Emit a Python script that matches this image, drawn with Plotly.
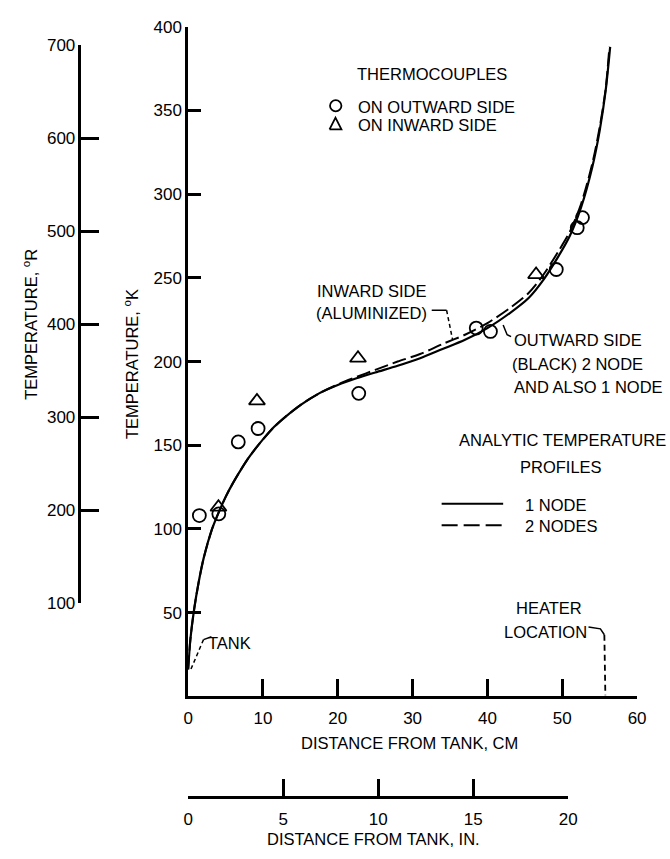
import plotly.graph_objects as go

# ---------------- data ----------------
cm_ticks = [0, 10, 20, 30, 40, 50, 60]
k_ticks = [50, 100, 150, 200, 250, 300, 350, 400]
r_ticks = [100, 200, 300, 400, 500, 600, 700]
in_ticks = [0, 5, 10, 15, 20]

# analytic profile, 1 node (solid)
node1_x = [0, 0.3, 0.8, 1.4, 2.1, 3.2, 4.0, 5.0, 6.0, 7.0, 8.0, 9.0, 10.0, 11.5,
           13, 15, 17.5, 20, 22.5, 25, 28, 31, 34, 37, 40, 43, 45.5, 47.5,
           49.5, 51, 52.5, 54, 55, 55.8, 56.4]
node1_y = [16, 34, 52, 68, 83, 100, 109, 119, 127.5, 135, 142, 148, 153.5, 161,
           167, 174, 181, 186, 190, 193.5, 197.5, 202, 207.5, 213, 220, 229, 238, 249,
           263, 275, 292, 316, 338, 362, 388]
# analytic profile, 2 nodes (dashed)
node2_x = [0, 0.3, 0.8, 1.4, 2.1, 3.2, 4.0, 5.0, 6.0, 7.0, 8.0, 9.0, 10.0, 11.5,
           13, 15, 17.5, 20, 22.5, 25, 28, 31, 34, 37, 40, 43, 45.5, 47.5,
           49.5, 51, 52.5, 54, 55, 55.8, 56.3]
node2_y = [16, 34, 52, 68, 83, 100, 109, 119, 127.5, 135, 142, 148, 153.5, 161,
           167, 174, 181, 186.3, 190.8, 195, 200, 204.5, 210.5, 216, 223, 232, 241, 252,
           266, 277.5, 294, 318, 340, 363, 388]

# thermocouples
outward_x = [1.5, 4.1, 6.7, 9.35, 22.8, 38.5, 40.4, 49.2, 52.0, 52.7]
outward_y = [108, 109, 152, 160, 181, 220, 218, 255, 280, 286]
inward_x = [4.05, 9.2, 22.7, 46.5]
inward_y = [113, 176.5, 202, 252]

# ---------------- layout helpers ----------------
W, H = 670, 859
L, T, R, B = 10, 10, 20, 10
PW, PH = W - L - R, H - T - B


def fx(px):
    return (px - L) / PW


def fy(py):
    return (H - B - py) / PH


FONT = "Liberation Sans, Arial, sans-serif"
FS_TICK = 17
FS = 16.5

fig = go.Figure()

fig.add_trace(go.Scatter(x=node1_x, y=node1_y, mode="lines",
                         line=dict(color="black", width=2.2, shape="spline", smoothing=0.8),
                         showlegend=False, hoverinfo="skip"))
fig.add_trace(go.Scatter(x=node2_x, y=node2_y, mode="lines",
                         line=dict(color="black", width=2.0, shape="spline", smoothing=0.8,
                                   dash="14px,5px"),
                         showlegend=False, hoverinfo="skip"))
fig.add_trace(go.Scatter(x=outward_x, y=outward_y, mode="markers",
                         marker=dict(symbol="circle-open", size=13, color="black",
                                     line=dict(width=1.8, color="black")),
                         showlegend=False, cliponaxis=False))
fig.add_trace(go.Scatter(x=inward_x, y=inward_y, mode="markers",
                         marker=dict(symbol="triangle-up-open", size=14, color="black",
                                     line=dict(width=1.8, color="black")),
                         showlegend=False, cliponaxis=False))
# carriers for the extra scales
fig.add_trace(go.Scatter(x=[], y=[], xaxis="x2", yaxis="y2", showlegend=False))
fig.add_trace(go.Scatter(x=[], y=[], xaxis="x3", yaxis="y3", showlegend=False))

axis_common = dict(showgrid=False, zeroline=False, showline=True, linecolor="black",
                   linewidth=2.5, ticks="inside", tickwidth=2.5, tickcolor="black",
                   tickfont=dict(family=FONT, size=FS_TICK, color="black"), fixedrange=True)

fig.update_layout(
    width=W, height=H,
    margin=dict(l=L, r=R, t=T, b=B),
    paper_bgcolor="white", plot_bgcolor="white",
    font=dict(family=FONT, size=FS, color="black"),
    xaxis=dict(domain=[fx(184.5), fx(637)], range=[0, 60], tickvals=cm_ticks,
               ticklen=18, anchor="y", ticklabelstandoff=5, **axis_common),
    yaxis=dict(domain=[fy(703), fy(18)], range=[0, 400], tickvals=k_ticks,
               ticklen=13, anchor="x", **axis_common),
    xaxis2=dict(domain=[fx(77), fx(77) + 0.02], range=[0, 1], visible=False, anchor="y2"),
    yaxis2=dict(domain=[fy(608), fy(37)], range=[100, 700], tickvals=r_ticks,
                ticklen=18, anchor="x2", **axis_common),
    xaxis3=dict(domain=[fx(184.5), fx(567.5)], range=[0, 20], tickvals=in_ticks,
                ticklen=17, anchor="y3", ticklabelstandoff=6, **axis_common),
    yaxis3=dict(domain=[fy(805), fy(805) + 0.02], range=[0, 1], visible=False, anchor="x3"),
)


def ann(text, px, py, xanchor="center", angle=0, size=FS):
    fig.add_annotation(text=text, x=fx(px), y=fy(py), xref="paper", yref="paper",
                       xanchor=xanchor, yanchor="middle", showarrow=False,
                       textangle=angle, font=dict(family=FONT, size=size, color="black"))


def seg(pts, dash="solid", width=1.6):
    path = "M " + " L ".join(f"{fx(a)},{fy(b)}" for a, b in pts)
    fig.add_shape(type="path", path=path, xref="paper", yref="paper",
                  line=dict(color="black", width=width, dash=dash))


# axis titles
ann("TEMPERATURE, <sup>o</sup>K", 127, 363, angle=-90)
ann("TEMPERATURE, <sup>o</sup>R", 25, 322, angle=-90)
ann("DISTANCE FROM TANK, CM", 408, 751)
ann("DISTANCE FROM TANK, IN.", 371, 849)

# thermocouple key
ann("THERMOCOUPLES", 430, 66)
ann("ON OUTWARD SIDE", 354, 100, xanchor="left")
ann("ON INWARD SIDE", 354, 118, xanchor="left")
fig.add_shape(type="circle", xref="paper", yref="paper",
              x0=fx(327.5), x1=fx(339), y0=fy(104.5), y1=fy(93),
              line=dict(color="black", width=1.8))
seg([(327, 123), (339, 123), (333, 111), (327, 123)], width=1.8)

# curve labels
ann("INWARD SIDE", 369, 288)
ann("(ALUMINIZED)", 369, 311)
seg([(430, 308), (445, 308)], width=1.5)
seg([(445, 308), (451, 338)], dash="4px,3px", width=1.5)

ann("OUTWARD SIDE", 511, 338, xanchor="left")
ann("(BLACK) 2 NODE", 509, 363, xanchor="left")
ann("AND ALSO 1 NODE", 511, 387, xanchor="left")
seg([(502, 323), (506, 333), (510, 335)], width=1.5)

# analytic profiles key
ann("ANALYTIC TEMPERATURE", 562, 441)
ann("PROFILES", 560, 468)
seg([(440, 506), (502, 506)], width=2.0)
seg([(440, 528), (502, 528)], dash="16px,6px", width=2.0)
ann("1 NODE", 522, 507, xanchor="left")
ann("2 NODES", 522, 529, xanchor="left")

# tank / heater labels
ann("TANK", 203, 648, xanchor="left")
seg([(208, 642), (200, 645)], width=1.5)
seg([(200, 645), (187, 676)], dash="4px,3px", width=1.5)

ann("HEATER", 548, 613)
ann("LOCATION", 545, 637)
seg([(588, 632), (600, 634), (604, 640)], width=1.5)
seg([(604, 640), (605, 702)], dash="6px,4px", width=1.8)

fig.write_html("out.html")
